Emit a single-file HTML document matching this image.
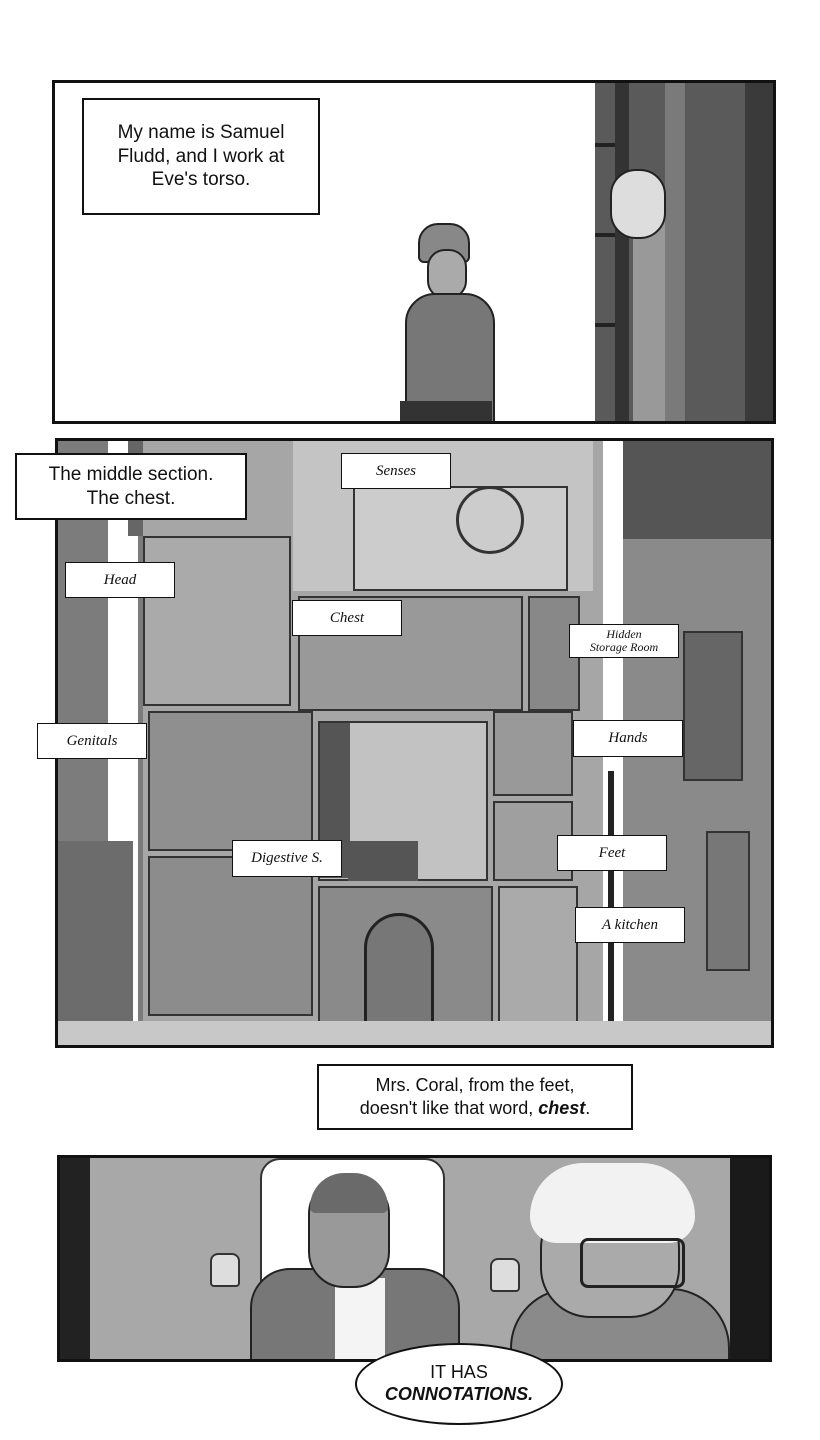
<!DOCTYPE html>
<html><head><meta charset="utf-8"><style>
*{margin:0;padding:0;box-sizing:border-box}
body{width:820px;height:1440px;background:#fff;position:relative;overflow:hidden;font-family:"Liberation Sans",sans-serif}
.a{position:absolute}
.cap{position:absolute;background:#fff;border:2px solid #111;display:flex;align-items:center;justify-content:center;text-align:center;font-family:"Liberation Sans",sans-serif;color:#111}
.lab{position:absolute;background:#fff;border:1.5px solid #111;display:flex;align-items:center;justify-content:center;text-align:center;font-family:"Liberation Serif",serif;font-style:italic;font-size:15px;color:#111;line-height:1}
.room{position:absolute;border:2px solid #333}
</style></head><body>
<!-- Panel 1 -->
<div class="a" style="left:52px;top:80px;width:724px;height:344px;border:3px solid #111;background:#fff;overflow:hidden">
  <div class="a" style="left:540px;top:0;width:190px;height:340px;background:#5a5a5a"></div>
  <div class="a" style="left:560px;top:0;width:14px;height:340px;background:#333"></div>
  <div class="a" style="left:610px;top:0;width:20px;height:340px;background:#7a7a7a"></div>
  <div class="a" style="left:690px;top:0;width:30px;height:340px;background:#3a3a3a"></div>
  <div class="a" style="left:540px;top:60px;width:20px;height:4px;background:#222"></div>
  <div class="a" style="left:540px;top:150px;width:20px;height:4px;background:#222"></div>
  <div class="a" style="left:540px;top:240px;width:20px;height:4px;background:#222"></div>
  <div class="a" style="left:578px;top:110px;width:32px;height:230px;background:#999"></div>
  <div class="a" style="left:555px;top:86px;width:56px;height:70px;border-radius:26px;background:#ddd;border:2px solid #222"></div>
  <!-- walking man -->
  <div class="a" style="left:363px;top:140px;width:52px;height:40px;border-radius:20px 20px 6px 6px;background:#888;border:2px solid #222"></div>
  <div class="a" style="left:372px;top:166px;width:40px;height:50px;border-radius:18px;background:#aaa;border:2px solid #222"></div>
  <div class="a" style="left:350px;top:210px;width:90px;height:130px;border-radius:30px 30px 0 0;background:#777;border:2px solid #222"></div>
  <div class="a" style="left:345px;top:318px;width:92px;height:24px;background:#333"></div>
</div>
<div class="cap" style="left:82px;top:98px;width:238px;height:117px;font-size:19px;line-height:1.25"><div>My name is Samuel<br>Fludd, and I work at<br>Eve's torso.</div></div>

<!-- Panel 2 -->
<div class="a" style="left:55px;top:438px;width:719px;height:610px;border:3px solid #111;background:#9a9a9a;overflow:hidden">
  <div class="a" style="left:0;top:0;width:90px;height:610px;background:#7c7c7c"></div>
  <div class="a" style="left:50px;top:0;width:30px;height:610px;background:#fff"></div>
  <div class="a" style="left:0;top:400px;width:75px;height:210px;background:#6c6c6c"></div>
  <div class="a" style="left:540px;top:0;width:36px;height:610px;background:#fff"></div>
  <div class="a" style="left:565px;top:0;width:154px;height:610px;background:#8a8a8a"></div>
  <div class="a" style="left:565px;top:0;width:154px;height:98px;background:#555"></div>
  <div class="a" style="left:625px;top:190px;width:60px;height:150px;background:#666;border:2px solid #333"></div>
  <div class="a" style="left:648px;top:390px;width:44px;height:140px;background:#777;border:2px solid #333"></div>
  <div class="a" style="left:70px;top:0;width:165px;height:95px;background:#666"></div>
  <!-- building -->
  <div class="a" style="left:85px;top:0;width:460px;height:590px;background:#a6a6a6"></div>
  <div class="a" style="left:235px;top:0;width:300px;height:150px;background:#c4c4c4"></div>
  <div class="room" style="left:295px;top:45px;width:215px;height:105px;background:#ccc"></div>
  <div class="a" style="left:398px;top:45px;width:68px;height:68px;border-radius:50%;border:3px solid #333"></div>
  <div class="room" style="left:85px;top:95px;width:148px;height:170px;background:#aaa"></div>
  <div class="room" style="left:240px;top:155px;width:225px;height:115px;background:#999"></div>
  <div class="room" style="left:470px;top:155px;width:52px;height:115px;background:#888"></div>
  <div class="room" style="left:90px;top:270px;width:165px;height:140px;background:#8f8f8f"></div>
  <div class="room" style="left:260px;top:280px;width:170px;height:160px;background:#c2c2c2"></div>
  <div class="a" style="left:262px;top:282px;width:30px;height:155px;background:#555"></div>
  <div class="a" style="left:290px;top:400px;width:70px;height:40px;background:#555"></div>
  <div class="room" style="left:435px;top:270px;width:80px;height:85px;background:#999"></div>
  <div class="room" style="left:435px;top:360px;width:80px;height:80px;background:#9f9f9f"></div>
  <div class="room" style="left:90px;top:415px;width:165px;height:160px;background:#8c8c8c"></div>
  <div class="room" style="left:260px;top:445px;width:175px;height:140px;background:#8a8a8a"></div>
  <div class="a" style="left:306px;top:472px;width:70px;height:118px;border:3px solid #222;border-radius:35px 35px 0 0;background:#777"></div>
  <div class="room" style="left:440px;top:445px;width:80px;height:140px;background:#aaa"></div>
  <div class="a" style="left:550px;top:330px;width:6px;height:280px;background:#222"></div>
  <div class="a" style="left:0;top:580px;width:719px;height:30px;background:#c8c8c8"></div>
</div>
<div class="cap" style="left:15px;top:453px;width:232px;height:67px;font-size:19px;line-height:1.25"><div>The middle section.<br>The chest.</div></div>
<div class="lab" style="left:341px;top:453px;width:110px;height:36px">Senses</div>
<div class="lab" style="left:65px;top:562px;width:110px;height:36px">Head</div>
<div class="lab" style="left:292px;top:600px;width:110px;height:36px">Chest</div>
<div class="lab" style="left:569px;top:624px;width:110px;height:34px;font-size:12px;line-height:1.1"><div>Hidden<br>Storage Room</div></div>
<div class="lab" style="left:37px;top:723px;width:110px;height:36px">Genitals</div>
<div class="lab" style="left:573px;top:720px;width:110px;height:37px">Hands</div>
<div class="lab" style="left:232px;top:840px;width:110px;height:37px">Digestive S.</div>
<div class="lab" style="left:557px;top:835px;width:110px;height:36px">Feet</div>
<div class="lab" style="left:575px;top:907px;width:110px;height:36px">A kitchen</div>

<div class="cap" style="left:317px;top:1064px;width:316px;height:66px;font-size:18px;line-height:1.3"><div>Mrs. Coral, from the feet,<br>doesn't like that word, <b><i>chest</i></b>.</div></div>

<!-- Panel 3 -->
<div class="a" style="left:57px;top:1155px;width:715px;height:207px;border:3px solid #111;background:#a8a8a8;overflow:hidden">
  <div class="a" style="left:0;top:0;width:30px;height:210px;background:#222"></div>
  <div class="a" style="left:670px;top:0;width:45px;height:210px;background:#1a1a1a"></div>
  <div class="a" style="left:200px;top:0;width:185px;height:210px;background:#fff;border-radius:20px 20px 0 0;border:2px solid #333"></div>
  <div class="a" style="left:190px;top:110px;width:210px;height:100px;background:#777;border-radius:40px 40px 0 0;border:2px solid #222"></div>
  <div class="a" style="left:275px;top:120px;width:50px;height:90px;background:#f4f4f4"></div>
  <div class="a" style="left:248px;top:20px;width:82px;height:110px;background:#999;border-radius:36px;border:2px solid #222"></div>
  <div class="a" style="left:250px;top:15px;width:78px;height:40px;background:#6a6a6a;border-radius:36px 36px 6px 6px"></div>
  <div class="a" style="left:450px;top:130px;width:220px;height:80px;background:#8a8a8a;border-radius:60px 60px 0 0;border:2px solid #222"></div>
  <div class="a" style="left:480px;top:40px;width:140px;height:120px;background:#aaa;border-radius:50px;border:2px solid #222"></div>
  <div class="a" style="left:470px;top:5px;width:165px;height:80px;background:#f2f2f2;border-radius:60px 60px 30px 30px"></div>
  <div class="a" style="left:520px;top:80px;width:105px;height:50px;border:3px solid #222;border-radius:8px"></div>
  <div class="a" style="left:150px;top:95px;width:30px;height:34px;background:#ddd;border:2px solid #333;border-radius:8px 8px 4px 4px"></div>
  <div class="a" style="left:430px;top:100px;width:30px;height:34px;background:#ddd;border:2px solid #333;border-radius:8px 8px 4px 4px"></div>
</div>
<div class="a" style="left:355px;top:1343px;width:208px;height:82px;background:#fff;border:2px solid #111;border-radius:50%;display:flex;align-items:center;justify-content:center;text-align:center;font-size:18px;line-height:1.2;color:#111"><div>IT HAS<br><b><i>CONNOTATIONS.</i></b></div></div>
</body></html>
